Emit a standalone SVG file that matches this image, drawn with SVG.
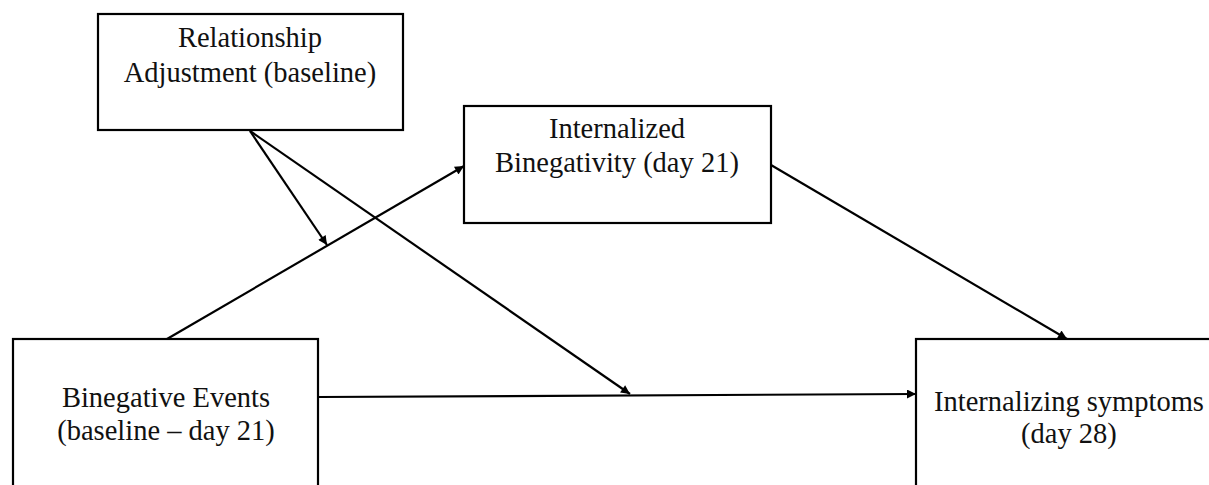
<svg xmlns="http://www.w3.org/2000/svg" width="1209" height="485" viewBox="0 0 1209 485">
<defs>
<marker id="ah" viewBox="0 0 10 10" refX="10" refY="5" markerWidth="11" markerHeight="9" markerUnits="userSpaceOnUse" orient="auto">
<path d="M0,0 L10,5 L0,10 z" fill="#000"/>
</marker>
<style>
.box{fill:#fff;stroke:#000;stroke-width:2.2}
.t{font-family:'Liberation Serif','DejaVu Serif','Times New Roman',serif;font-size:28.5px;fill:#111;text-anchor:middle}
.c{stroke:#000;stroke-width:2.2;fill:none;marker-end:url(#ah)}
</style>
</defs>
<rect width="1209" height="485" fill="#fff"/>
<g id="connectors">
<line class="c" x1="167" y1="339" x2="464" y2="166"/>
<line class="c" x1="250" y1="131" x2="327" y2="245"/>
<line class="c" x1="250" y1="131" x2="630" y2="394"/>
<line class="c" x1="319" y1="397" x2="916" y2="394"/>
<line class="c" x1="771" y1="165" x2="1067" y2="339"/>
</g>
<g id="n-relationship">
<rect class="box" x="98" y="14" width="305" height="116"/>
<text class="t" font-family="Liberation Serif, serif" x="250" y="47">Relationship</text>
<text class="t" font-family="Liberation Serif, serif" x="250" y="82">Adjustment (baseline)</text>
</g>
<g id="n-internalized">
<rect class="box" x="464" y="106" width="307" height="117"/>
<text class="t" x="617" y="138">Internalized</text>
<text class="t" x="617" y="172">Binegativity (day 21)</text>
</g>
<g id="n-events">
<rect class="box" x="13" y="339" width="305" height="160"/>
<text class="t" x="166" y="407">Binegative Events</text>
<text class="t" x="166" y="440">(baseline – day 21)</text>
</g>
<g id="n-symptoms">
<rect class="box" x="916" y="339" width="310" height="160"/>
<text class="t" x="1069" y="411">Internalizing symptoms</text>
<text class="t" x="1069" y="443">(day 28)</text>
</g>
</svg>
